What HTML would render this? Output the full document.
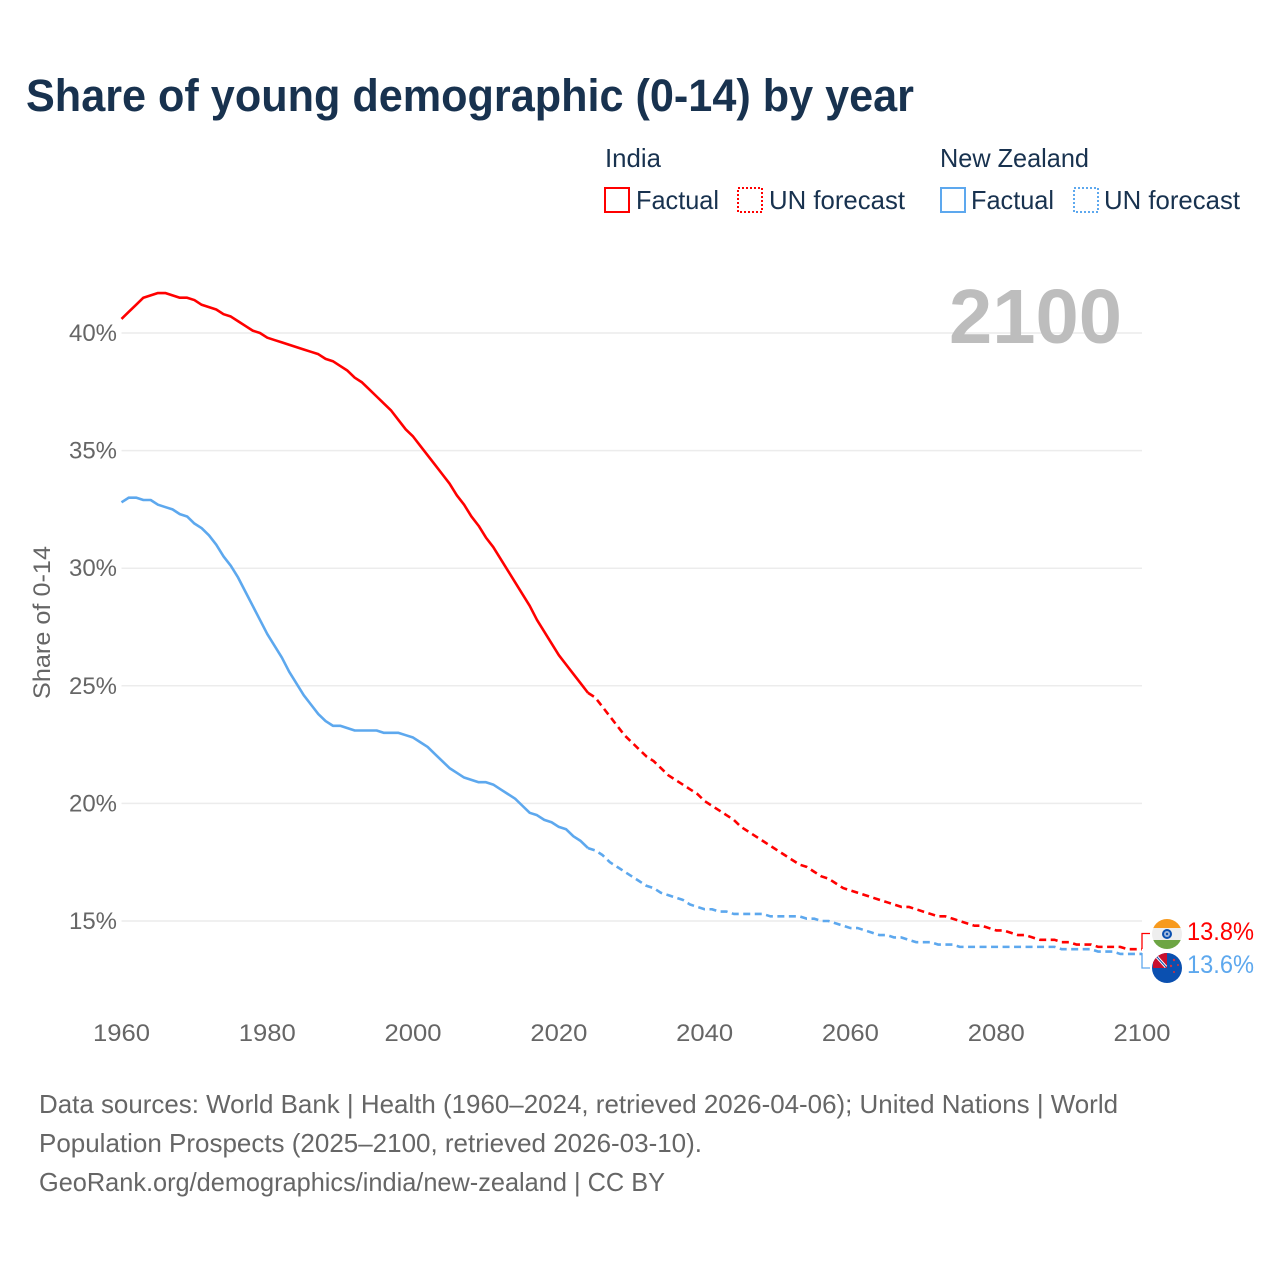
<!DOCTYPE html>
<html lang="en">
<head>
<meta charset="utf-8">
<title>Share of young demographic (0-14) by year</title>
<style>
html,body{margin:0;padding:0;background:#fff;}
svg{display:block;font-family:"Liberation Sans",sans-serif;}
</style>
</head>
<body>
<svg id="chart" width="1280" height="1280" viewBox="0 0 1280 1280" xmlns="http://www.w3.org/2000/svg">
  <defs>
    <clipPath id="india-clip"><circle cx="1167" cy="934" r="15"/></clipPath>
    <clipPath id="nz-clip"><circle cx="1167" cy="968" r="15"/></clipPath>
  </defs>
  <text x="26" y="111" font-size="45" font-weight="700" fill="#18324f" textLength="888" lengthAdjust="spacingAndGlyphs">Share of young demographic (0-14) by year</text>

  <g font-size="26" fill="#18324f">
    <text x="605" y="167" textLength="56" lengthAdjust="spacingAndGlyphs">India</text>
    <rect x="605" y="188" width="24" height="24" fill="none" stroke="#ff0000" stroke-width="2"/>
    <text x="636" y="209" textLength="83" lengthAdjust="spacingAndGlyphs">Factual</text>
    <rect x="738" y="188" width="24" height="24" fill="none" stroke="#ff0000" stroke-width="2" stroke-dasharray="2 2"/>
    <text x="769" y="209" textLength="136" lengthAdjust="spacingAndGlyphs">UN forecast</text>
    <text x="940" y="167" textLength="149" lengthAdjust="spacingAndGlyphs">New Zealand</text>
    <rect x="941" y="188" width="24" height="24" fill="none" stroke="#5da8ee" stroke-width="2"/>
    <text x="971" y="209" textLength="83" lengthAdjust="spacingAndGlyphs">Factual</text>
    <rect x="1074" y="188" width="24" height="24" fill="none" stroke="#5da8ee" stroke-width="2" stroke-dasharray="2 2"/>
    <text x="1104" y="209" textLength="136" lengthAdjust="spacingAndGlyphs">UN forecast</text>
  </g>

  <g id="grid"></g>
  <g id="y-ticks"></g>
  <g id="x-ticks"></g>
  <text transform="translate(50,622.5) rotate(-90)" text-anchor="middle" font-size="24" fill="#666666" textLength="153" lengthAdjust="spacingAndGlyphs">Share of 0-14</text>
  <text id="year-label" x="949" y="343" font-size="77" font-weight="700" fill="#bdbdbd" textLength="173" lengthAdjust="spacingAndGlyphs">2100</text>

  <g id="series"></g>

  <path d="M1142 949V933.500H1150" fill="none" stroke="#ff0000" stroke-width="1.300"/>
  <path d="M1142 953V968H1150" fill="none" stroke="#5da8ee" stroke-width="1.300"/>

  <g clip-path="url(#nz-clip)">
    <rect x="1152" y="953" width="30" height="30" fill="#0b50b0"/>
    <rect x="1153" y="953" width="14" height="15" fill="#c8102e"/>
    <path d="M1157 957L1166 967" stroke="#ffffff" stroke-width="3"/>
    <path d="M1157 957L1166 967" stroke="#0b50b0" stroke-width="1"/>
    <circle cx="1174" cy="960" r="1.200" fill="#d9303a"/>
    <circle cx="1178" cy="965" r="1" fill="#d9303a"/>
    <circle cx="1171" cy="966" r="1.200" fill="#d9303a"/>
    <circle cx="1174" cy="972" r="1" fill="#d9303a"/>
  </g>
  <circle cx="1167" cy="934" r="16" fill="#ffffff" opacity="0.85"/>
  <g clip-path="url(#india-clip)">
    <rect x="1152" y="919" width="30" height="9" fill="#f79a1e"/>
    <rect x="1152" y="928" width="30" height="12" fill="#eeeeee"/>
    <rect x="1152" y="940" width="30" height="9" fill="#6da544"/>
    <circle cx="1167" cy="934" r="5" fill="#0b50b0"/>
    <circle cx="1167" cy="934" r="3" fill="#9fb7dc"/>
    <circle cx="1167" cy="934" r="1.200" fill="#0b50b0"/>
  </g>
  <text id="india-value" x="1187" y="940" font-size="25" fill="#ff0000" textLength="67" lengthAdjust="spacingAndGlyphs"></text>
  <text id="nz-value" x="1187" y="973" font-size="25" fill="#5da8ee" textLength="67" lengthAdjust="spacingAndGlyphs"></text>

  <g font-size="26" fill="#666666">
    <text x="39" y="1113" textLength="1079" lengthAdjust="spacingAndGlyphs">Data sources: World Bank | Health (1960–2024, retrieved 2026-04-06); United Nations | World</text>
    <text x="39" y="1152" textLength="663" lengthAdjust="spacingAndGlyphs">Population Prospects (2025–2100, retrieved 2026-03-10).</text>
    <text x="39" y="1191" textLength="626" lengthAdjust="spacingAndGlyphs">GeoRank.org/demographics/india/new-zealand | CC BY</text>
  </g>
</svg>
<script>
const firstYear = 1960;
const lastFactualYear = 2024;
const yTicks = [15, 20, 25, 30, 35, 40];
const xTicks = [1960, 1980, 2000, 2020, 2040, 2060, 2080, 2100];
const indiaValues = [
  40.6,40.9,41.2,41.5,41.6,41.7,41.7,41.6,41.5,41.5,
  41.4,41.2,41.1,41.0,40.8,40.7,40.5,40.3,40.1,40.0,
  39.8,39.7,39.6,39.5,39.4,39.3,39.2,39.1,38.9,38.8,
  38.6,38.4,38.1,37.9,37.6,37.3,37.0,36.7,36.3,35.9,
  35.6,35.2,34.8,34.4,34.0,33.6,33.1,32.7,32.2,31.8,
  31.3,30.9,30.4,29.9,29.4,28.9,28.4,27.8,27.3,26.8,
  26.3,25.9,25.5,25.1,24.7,24.5,24.1,23.7,23.3,22.9,
  22.6,22.3,22.0,21.8,21.5,21.2,21.0,20.8,20.6,20.4,
  20.1,19.9,19.7,19.5,19.3,19.0,18.8,18.6,18.4,18.2,
  18.0,17.8,17.6,17.4,17.3,17.1,16.9,16.8,16.6,16.4,
  16.3,16.2,16.1,16.0,15.9,15.8,15.7,15.6,15.6,15.5,
  15.4,15.3,15.2,15.2,15.1,15.0,14.9,14.8,14.8,14.7,
  14.6,14.6,14.5,14.4,14.4,14.3,14.2,14.2,14.2,14.1,
  14.1,14.0,14.0,14.0,13.9,13.9,13.9,13.9,13.8,13.8,13.8
];
const nzValues = [
  32.8,33.0,33.0,32.9,32.9,32.7,32.6,32.5,32.3,32.2,
  31.9,31.7,31.4,31.0,30.5,30.1,29.6,29.0,28.4,27.8,
  27.2,26.7,26.2,25.6,25.1,24.6,24.2,23.8,23.5,23.3,
  23.3,23.2,23.1,23.1,23.1,23.1,23.0,23.0,23.0,22.9,
  22.8,22.6,22.4,22.1,21.8,21.5,21.3,21.1,21.0,20.9,
  20.9,20.8,20.6,20.4,20.2,19.9,19.6,19.5,19.3,19.2,
  19.0,18.9,18.6,18.4,18.1,18.0,17.8,17.5,17.3,17.1,
  16.9,16.7,16.5,16.4,16.2,16.1,16.0,15.9,15.7,15.6,
  15.5,15.5,15.4,15.4,15.3,15.3,15.3,15.3,15.3,15.2,
  15.2,15.2,15.2,15.2,15.1,15.1,15.0,15.0,14.9,14.8,
  14.7,14.7,14.6,14.5,14.4,14.4,14.3,14.3,14.2,14.1,
  14.1,14.1,14.0,14.0,14.0,13.9,13.9,13.9,13.9,13.9,
  13.9,13.9,13.9,13.9,13.9,13.9,13.9,13.9,13.9,13.8,
  13.8,13.8,13.8,13.8,13.7,13.7,13.7,13.6,13.6,13.6,13.6
];

const SVG_NS = 'http://www.w3.org/2000/svg';
const xScale = year => 121.5 + (year - 1960) * (1142 - 121.5) / 140;
const yScale = value => 921 - (value - 15) * (921 - 333) / 25;

function pathFor(values, fromYear, toYear) {
  let d = '';
  for (let year = fromYear; year <= toYear; year++) {
    const v = values[year - firstYear];
    d += (d ? 'L' : 'M') + xScale(year).toFixed(2) + ' ' + yScale(v).toFixed(2);
  }
  return d;
}

const gridGroup = document.getElementById('grid');
const yGroup = document.getElementById('y-ticks');
yTicks.forEach(tick => {
  const line = document.createElementNS(SVG_NS, 'line');
  
  
  line.setAttribute('x1', xScale(1960));
  line.setAttribute('x2', xScale(2100));
  line.setAttribute('y1', yScale(tick));
  line.setAttribute('y2', yScale(tick));
  line.setAttribute('stroke', '#ececec');
  line.setAttribute('stroke-width', '1.5');
  gridGroup.appendChild(line);

  const label = document.createElementNS(SVG_NS, 'text');
  
  
  label.setAttribute('x', '69');
  label.setAttribute('y', yScale(tick) + 8);
  label.setAttribute('font-size', '24');
  label.setAttribute('fill', '#666666');
  label.setAttribute('textLength', '48');
  label.setAttribute('lengthAdjust', 'spacingAndGlyphs');
  label.textContent = tick + '%';
  yGroup.appendChild(label);
});

const xGroup = document.getElementById('x-ticks');
xTicks.forEach(tick => {
  const label = document.createElementNS(SVG_NS, 'text');
  
  
  label.setAttribute('x', xScale(tick) - 28.5);
  label.setAttribute('y', '1041');
  label.setAttribute('font-size', '24');
  label.setAttribute('fill', '#666666');
  label.setAttribute('textLength', '57');
  label.setAttribute('lengthAdjust', 'spacingAndGlyphs');
  label.textContent = tick;
  xGroup.appendChild(label);
});

const seriesGroup = document.getElementById('series');
function addLine(name, values, colour, from, to, dash) {
  const p = document.createElementNS(SVG_NS, 'path');
  
  
  p.setAttribute('d', pathFor(values, from, to));
  p.setAttribute('fill', 'none');
  p.setAttribute('stroke', colour);
  p.setAttribute('stroke-width', '2.6');
  p.setAttribute('stroke-linejoin', 'round');
  if (dash) p.setAttribute('stroke-dasharray', dash);
  seriesGroup.appendChild(p);
}
const lastYear = firstYear + indiaValues.length - 1;
addLine('nz-factual-line', nzValues, '#5da8ee', firstYear, lastFactualYear);
addLine('nz-forecast-line', nzValues, '#5da8ee', lastFactualYear, lastYear, '7 4.5');
addLine('india-factual-line', indiaValues, '#ff0000', firstYear, lastFactualYear);
addLine('india-forecast-line', indiaValues, '#ff0000', lastFactualYear, lastYear, '7 4.5');

document.getElementById('india-value').textContent = indiaValues[indiaValues.length - 1].toFixed(1) + '%';
document.getElementById('nz-value').textContent = nzValues[nzValues.length - 1].toFixed(1) + '%';
</script>
</body>
</html>
